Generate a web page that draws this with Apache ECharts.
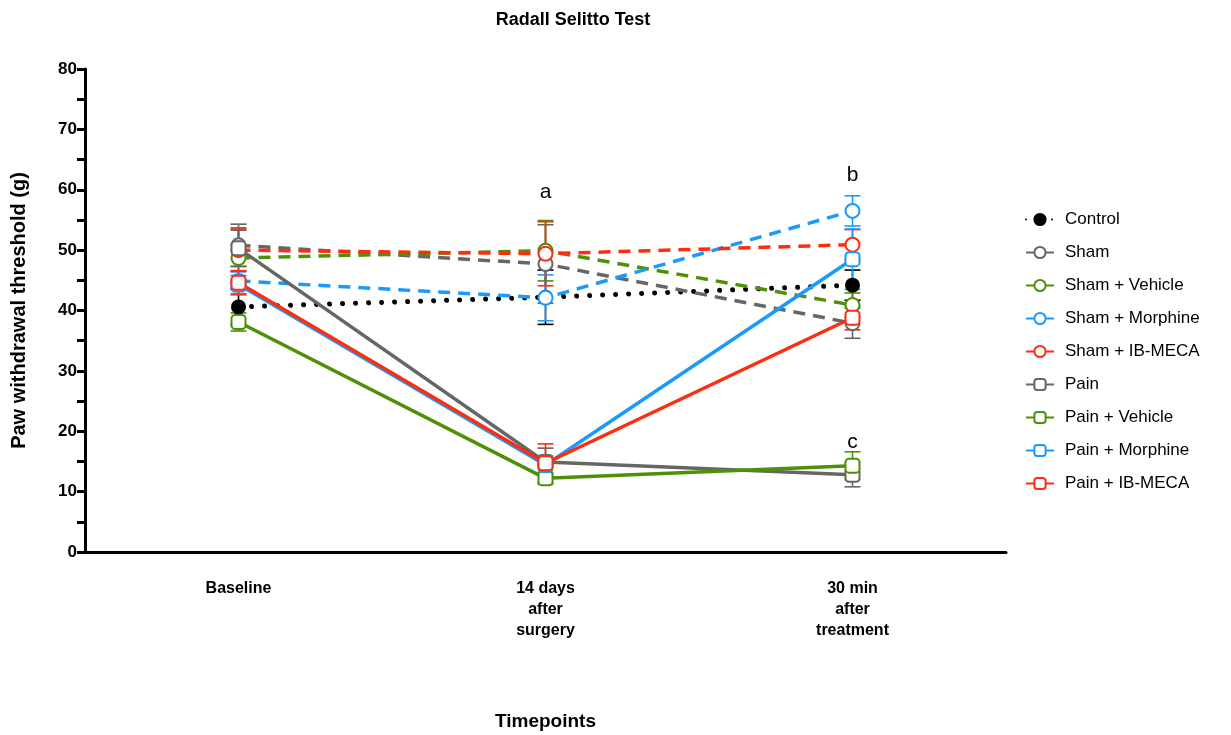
<!DOCTYPE html>
<html>
<head>
<meta charset="utf-8">
<script src="https://cdn.jsdelivr.net/npm/echarts@6/dist/echarts.min.js"></script>
<style>html,body{margin:0;padding:0;background:#fff;}#c{width:1231px;height:735px;}</style>
</head>
<body>
<div id="c"></div>
<script>
var categories = ['Baseline', '14 days\nafter\nsurgery', '30 min\nafter\ntreatment'];
var seriesNames = ['Control', 'Sham', 'Sham + Vehicle', 'Sham + Morphine', 'Sham + IB-MECA', 'Pain', 'Pain + Vehicle', 'Pain + Morphine', 'Pain + IB-MECA'];
var control = [40.6, 42.2, 44.2];
var sham = [50.8, 47.7, 37.9];
var shamVehicle = [48.7, 49.9, 40.9];
var shamMorphine = [44.9, 42.1, 56.5];
var shamIBMECA = [50.0, 49.4, 50.9];
var pain = [50.3, 14.9, 12.8];
var painVehicle = [38.1, 12.2, 14.3];
var painMorphine = [44.3, 14.4, 48.5];
var painIBMECA = [44.6, 14.7, 38.8];
var controlErr = [3.0, 4.5, 2.5];
var shamErr = [3.5, 6.5, 2.5];
var shamVehicleErr = [5.0, 5.0, 2.0];
var shamMorphineErr = [1.5, 3.8, 2.5];
var shamIBMECAErr = [3.5, 5.3, 2.5];
var painErr = [3.0, 2.3, 2.0];
var painVehicleErr = [1.5, 1.0, 2.3];
var painMorphineErr = [1.5, 1.5, 5.0];
var painIBMECAErr = [2.0, 3.2, 2.0];
var annotations = [[1, 59.6, 'a'], [2, 62.4, 'b'], [2, 18.2, 'c']];
var yTicks = [0, 10, 20, 30, 40, 50, 60, 70, 80];

var values = [control, sham, shamVehicle, shamMorphine, shamIBMECA, pain, painVehicle, painMorphine, painIBMECA];
var errs = [controlErr, shamErr, shamVehicleErr, shamMorphineErr, shamIBMECAErr, painErr, painVehicleErr, painMorphineErr, painIBMECAErr];
var colors = ['#000000', '#666666', '#4E9108', '#1A9BFC', '#FC2D10', '#666666', '#4E9108', '#1A9BFC', '#FC2D10'];
var symbols = ['circle', 'emptyCircle', 'emptyCircle', 'emptyCircle', 'emptyCircle', 'emptyRoundRect', 'emptyRoundRect', 'emptyRoundRect', 'emptyRoundRect'];
var lineTypes = [[0.01, 13], [12, 8], [12, 8], [12, 8], [12, 8], 'solid', 'solid', 'solid', 'solid'];

var FONT = 'Liberation Sans, Arial, sans-serif';
var series = [];
values.forEach(function (vals, i) {
  var d = vals.map(function (v, k) { return [k, v - errs[i][k], v + errs[i][k]]; });
  series.push({
    type: 'custom', name: 'err' + i, z: 1, silent: true,
    data: d, encode: { x: 0, y: [1, 2] },
    renderItem: function (params, api) {
      var x = api.coord([api.value(0), 0])[0];
      var lo = api.coord([api.value(0), api.value(1)])[1];
      var hi = api.coord([api.value(0), api.value(2)])[1];
      var hw = 8;
      var st = { stroke: colors[i], lineWidth: 1.6, fill: null };
      return { type: 'group', children: [
        { type: 'line', shape: { x1: x, y1: lo, x2: x, y2: hi }, style: st },
        { type: 'line', shape: { x1: x - hw, y1: lo, x2: x + hw, y2: lo }, style: st },
        { type: 'line', shape: { x1: x - hw, y1: hi, x2: x + hw, y2: hi }, style: st }
      ]};
    }
  });
});
values.forEach(function (vals, i) {
  series.push({
    type: 'line', name: seriesNames[i], data: vals, z: 3,
    symbol: symbols[i], symbolSize: i === 0 ? 12 : 14,
    itemStyle: { color: colors[i], borderColor: colors[i], borderWidth: 3 },
    lineStyle: { color: colors[i], width: i === 0 ? 5 : 3.5, type: lineTypes[i], cap: i === 0 ? 'round' : 'butt' },
    emphasis: { disabled: true }
  });
});
series.push({
  type: 'custom', name: 'ann', z: 5, silent: true,
  data: annotations, encode: { x: 0, y: 1 },
  renderItem: function (params, api) {
    var p = api.coord([api.value(0), api.value(1)]);
    return { type: 'text', x: p[0], y: p[1], style: { text: annotations[params.dataIndex][2], fontSize: 21, fontFamily: FONT, fill: '#000', align: 'center', verticalAlign: 'middle' } };
  }
});

var chart = echarts.init(document.getElementById('c'));
chart.setOption({
  animation: false,
  backgroundColor: '#fff',
  title: { text: 'Radall Selitto Test', left: 568, top: 6, textAlign: 'center', textStyle: { fontFamily: FONT, fontWeight: 'bold', fontSize: 18, color: '#000' } },
  grid: { left: 85, right: 225, top: 69, bottom: 183, containLabel: false, outerBoundsMode: 'none' },
  legend: {
    data: seriesNames, orient: 'vertical', left: 1020, top: 206, itemGap: 16, itemWidth: 28, itemHeight: 14,
    textStyle: { fontFamily: FONT, fontSize: 17, color: '#000', padding: [0, 0, 0, 6] }
  },
  xAxis: {
    type: 'category', data: categories, boundaryGap: true,
    name: 'Timepoints', nameLocation: 'middle', nameGap: 160,
    nameTextStyle: { fontFamily: FONT, fontWeight: 'bold', fontSize: 19, color: '#000' },
    axisLine: { lineStyle: { color: '#000', width: 3 } },
    axisTick: { alignWithLabel: true, length: 8, lineStyle: { width: 3, color: '#000' } },
    axisLabel: { fontFamily: FONT, fontWeight: 'bold', fontSize: 16, color: '#000', margin: 26, lineHeight: 21 }
  },
  yAxis: {
    type: 'value', min: 0, max: 80, interval: 10,
    name: 'Paw withdrawal threshold (g)', nameLocation: 'middle', nameGap: 56,
    nameTextStyle: { fontFamily: FONT, fontWeight: 'bold', fontSize: 20, color: '#000' },
    axisLine: { show: true, lineStyle: { color: '#000', width: 3 } },
    axisTick: { show: true, length: 8, lineStyle: { width: 3, color: '#000' } },
    minorTick: { show: true, splitNumber: 2, length: 8, lineStyle: { width: 3, color: '#000' } },
    splitLine: { show: false },
    axisLabel: { fontFamily: FONT, fontWeight: 'bold', fontSize: 17, color: '#000', margin: 8,
      formatter: function (v) { return yTicks.indexOf(v) >= 0 ? String(v) : ''; } }
  },
  series: series
});
</script>
</body>
</html>
